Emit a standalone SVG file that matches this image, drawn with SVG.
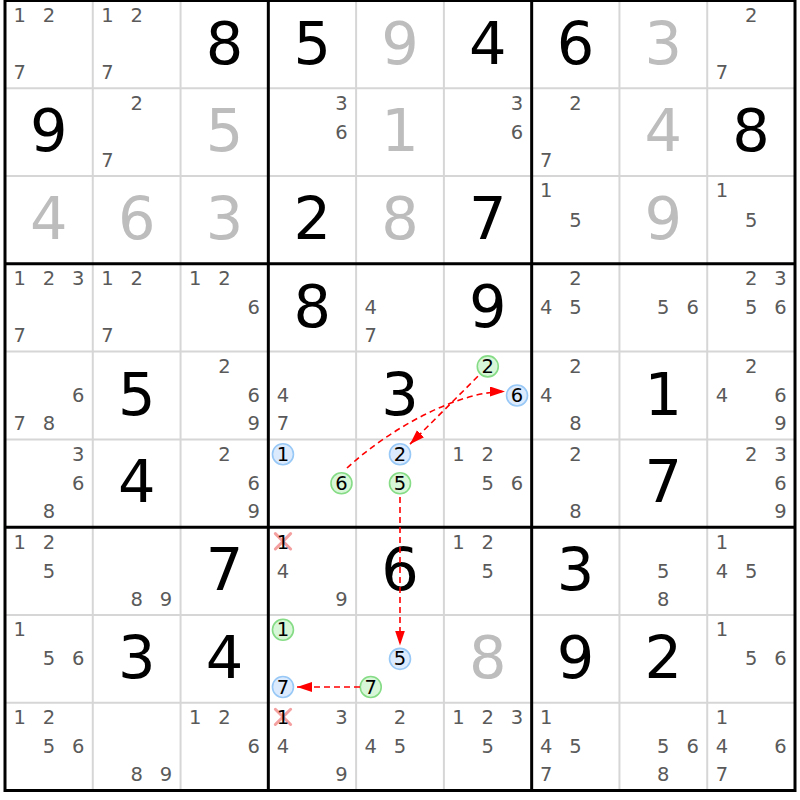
<svg xmlns="http://www.w3.org/2000/svg" width="800" height="800" viewBox="0 0 800 800">
<style>
text{font-family:"DejaVu Sans","Verdana",sans-serif;text-anchor:middle}
.c{font-size:19.5px;fill:#5a5a5a}
.k{font-size:19.5px;fill:#000}
.g{font-size:59px;fill:#000}
.s{font-size:59px;fill:#bdbdbd}
.thin{stroke:#d6d6d6;stroke-width:2}
.thick{stroke:#000;stroke-width:3;fill:none}
.gc{fill:#d8f6d8;stroke:#86dc86;stroke-width:1.6}
.bc{fill:#dbeafd;stroke:#98c8f6;stroke-width:1.6}
.x{stroke:#f5a0a0;stroke-width:3;stroke-linecap:round}
.link{fill:none;stroke:#f00;stroke-width:1.6;stroke-dasharray:6,4}
</style>
<defs>
<marker id="ah" markerUnits="userSpaceOnUse" markerWidth="16" markerHeight="11" refX="15" refY="5" orient="auto"><path d="M0,0 L15,5 L0,10 z" fill="#f00"/></marker>
</defs>
<rect x="0" y="0" width="800" height="800" fill="#fff"/>
<g id="grid">
<g class="thin">
<line x1="92.78" y1="0.5" x2="92.78" y2="790.5"/><line x1="180.56" y1="0.5" x2="180.56" y2="790.5"/>
<line x1="356.11" y1="0.5" x2="356.11" y2="790.5"/><line x1="443.89" y1="0.5" x2="443.89" y2="790.5"/>
<line x1="619.44" y1="0.5" x2="619.44" y2="790.5"/><line x1="707.22" y1="0.5" x2="707.22" y2="790.5"/>
<line x1="5" y1="88.28" x2="795" y2="88.28"/><line x1="5" y1="176.06" x2="795" y2="176.06"/>
<line x1="5" y1="351.61" x2="795" y2="351.61"/><line x1="5" y1="439.39" x2="795" y2="439.39"/>
<line x1="5" y1="614.94" x2="795" y2="614.94"/><line x1="5" y1="702.72" x2="795" y2="702.72"/>
</g>
<g class="thick">
<rect x="5" y="0.5" width="790" height="790"/>
<line x1="268.33" y1="0.5" x2="268.33" y2="790.5"/><line x1="531.67" y1="0.5" x2="531.67" y2="790.5"/>
<line x1="5" y1="263.83" x2="795" y2="263.83"/><line x1="5" y1="527.17" x2="795" y2="527.17"/>
</g>
</g>
<g id="cells">
<!-- row 1 -->
<g id="r1c1" transform="translate(5,0.5)"><text class="c" x="14.63" y="21.4">1</text><text class="c" x="43.89" y="21.4">2</text><text class="c" x="14.63" y="78.6">7</text></g>
<g id="r1c2" transform="translate(92.78,0.5)"><text class="c" x="14.63" y="21.4">1</text><text class="c" x="43.89" y="21.4">2</text><text class="c" x="14.63" y="78.6">7</text></g>
<g id="r1c3" transform="translate(180.56,0.5)"><text class="g" x="43.89" y="63">8</text></g>
<g id="r1c4" transform="translate(268.33,0.5)"><text class="g" x="43.89" y="63">5</text></g>
<g id="r1c5" transform="translate(356.11,0.5)"><text class="s" x="43.89" y="63">9</text></g>
<g id="r1c6" transform="translate(443.89,0.5)"><text class="g" x="43.89" y="63">4</text></g>
<g id="r1c7" transform="translate(531.67,0.5)"><text class="g" x="43.89" y="63">6</text></g>
<g id="r1c8" transform="translate(619.44,0.5)"><text class="s" x="43.89" y="63">3</text></g>
<g id="r1c9" transform="translate(707.22,0.5)"><text class="c" x="43.89" y="21.4">2</text><text class="c" x="14.63" y="78.6">7</text></g>
<!-- row 2 -->
<g id="r2c1" transform="translate(5,88.28)"><text class="g" x="43.89" y="63">9</text></g>
<g id="r2c2" transform="translate(92.78,88.28)"><text class="c" x="43.89" y="21.4">2</text><text class="c" x="14.63" y="78.6">7</text></g>
<g id="r2c3" transform="translate(180.56,88.28)"><text class="s" x="43.89" y="63">5</text></g>
<g id="r2c4" transform="translate(268.33,88.28)"><text class="c" x="73.15" y="21.4">3</text><text class="c" x="73.15" y="50.5">6</text></g>
<g id="r2c5" transform="translate(356.11,88.28)"><text class="s" x="43.89" y="63">1</text></g>
<g id="r2c6" transform="translate(443.89,88.28)"><text class="c" x="73.15" y="21.4">3</text><text class="c" x="73.15" y="50.5">6</text></g>
<g id="r2c7" transform="translate(531.67,88.28)"><text class="c" x="43.89" y="21.4">2</text><text class="c" x="14.63" y="78.6">7</text></g>
<g id="r2c8" transform="translate(619.44,88.28)"><text class="s" x="43.89" y="63">4</text></g>
<g id="r2c9" transform="translate(707.22,88.28)"><text class="g" x="43.89" y="63">8</text></g>
<!-- row 3 -->
<g id="r3c1" transform="translate(5,176.06)"><text class="s" x="43.89" y="63">4</text></g>
<g id="r3c2" transform="translate(92.78,176.06)"><text class="s" x="43.89" y="63">6</text></g>
<g id="r3c3" transform="translate(180.56,176.06)"><text class="s" x="43.89" y="63">3</text></g>
<g id="r3c4" transform="translate(268.33,176.06)"><text class="g" x="43.89" y="63">2</text></g>
<g id="r3c5" transform="translate(356.11,176.06)"><text class="s" x="43.89" y="63">8</text></g>
<g id="r3c6" transform="translate(443.89,176.06)"><text class="g" x="43.89" y="63">7</text></g>
<g id="r3c7" transform="translate(531.67,176.06)"><text class="c" x="14.63" y="21.4">1</text><text class="c" x="43.89" y="50.5">5</text></g>
<g id="r3c8" transform="translate(619.44,176.06)"><text class="s" x="43.89" y="63">9</text></g>
<g id="r3c9" transform="translate(707.22,176.06)"><text class="c" x="14.63" y="21.4">1</text><text class="c" x="43.89" y="50.5">5</text></g>
<!-- row 4 -->
<g id="r4c1" transform="translate(5,263.83)"><text class="c" x="14.63" y="21.4">1</text><text class="c" x="43.89" y="21.4">2</text><text class="c" x="73.15" y="21.4">3</text><text class="c" x="14.63" y="78.6">7</text></g>
<g id="r4c2" transform="translate(92.78,263.83)"><text class="c" x="14.63" y="21.4">1</text><text class="c" x="43.89" y="21.4">2</text><text class="c" x="14.63" y="78.6">7</text></g>
<g id="r4c3" transform="translate(180.56,263.83)"><text class="c" x="14.63" y="21.4">1</text><text class="c" x="43.89" y="21.4">2</text><text class="c" x="73.15" y="50.5">6</text></g>
<g id="r4c4" transform="translate(268.33,263.83)"><text class="g" x="43.89" y="63">8</text></g>
<g id="r4c5" transform="translate(356.11,263.83)"><text class="c" x="14.63" y="50.5">4</text><text class="c" x="14.63" y="78.6">7</text></g>
<g id="r4c6" transform="translate(443.89,263.83)"><text class="g" x="43.89" y="63">9</text></g>
<g id="r4c7" transform="translate(531.67,263.83)"><text class="c" x="43.89" y="21.4">2</text><text class="c" x="14.63" y="50.5">4</text><text class="c" x="43.89" y="50.5">5</text></g>
<g id="r4c8" transform="translate(619.44,263.83)"><text class="c" x="43.89" y="50.5">5</text><text class="c" x="73.15" y="50.5">6</text></g>
<g id="r4c9" transform="translate(707.22,263.83)"><text class="c" x="43.89" y="21.4">2</text><text class="c" x="73.15" y="21.4">3</text><text class="c" x="43.89" y="50.5">5</text><text class="c" x="73.15" y="50.5">6</text></g>
<!-- row 5 -->
<g id="r5c1" transform="translate(5,351.61)"><text class="c" x="73.15" y="50.5">6</text><text class="c" x="14.63" y="78.6">7</text><text class="c" x="43.89" y="78.6">8</text></g>
<g id="r5c2" transform="translate(92.78,351.61)"><text class="g" x="43.89" y="63">5</text></g>
<g id="r5c3" transform="translate(180.56,351.61)"><text class="c" x="43.89" y="21.4">2</text><text class="c" x="73.15" y="50.5">6</text><text class="c" x="73.15" y="78.6">9</text></g>
<g id="r5c4" transform="translate(268.33,351.61)"><text class="c" x="14.63" y="50.5">4</text><text class="c" x="14.63" y="78.6">7</text></g>
<g id="r5c5" transform="translate(356.11,351.61)"><text class="g" x="43.89" y="63">3</text></g>
<g id="r5c6" transform="translate(443.89,351.61)"><circle class="gc" cx="43.89" cy="14.8" r="10.5"/><text class="k" x="43.89" y="21.4">2</text><circle class="bc" cx="73.15" cy="43.9" r="10.5"/><text class="k" x="73.15" y="50.5">6</text></g>
<g id="r5c7" transform="translate(531.67,351.61)"><text class="c" x="43.89" y="21.4">2</text><text class="c" x="14.63" y="50.5">4</text><text class="c" x="43.89" y="78.6">8</text></g>
<g id="r5c8" transform="translate(619.44,351.61)"><text class="g" x="43.89" y="63">1</text></g>
<g id="r5c9" transform="translate(707.22,351.61)"><text class="c" x="43.89" y="21.4">2</text><text class="c" x="14.63" y="50.5">4</text><text class="c" x="73.15" y="50.5">6</text><text class="c" x="73.15" y="78.6">9</text></g>
<!-- row 6 -->
<g id="r6c1" transform="translate(5,439.39)"><text class="c" x="73.15" y="21.4">3</text><text class="c" x="73.15" y="50.5">6</text><text class="c" x="43.89" y="78.6">8</text></g>
<g id="r6c2" transform="translate(92.78,439.39)"><text class="g" x="43.89" y="63">4</text></g>
<g id="r6c3" transform="translate(180.56,439.39)"><text class="c" x="43.89" y="21.4">2</text><text class="c" x="73.15" y="50.5">6</text><text class="c" x="73.15" y="78.6">9</text></g>
<g id="r6c4" transform="translate(268.33,439.39)"><circle class="bc" cx="14.63" cy="14.8" r="10.5"/><text class="k" x="14.63" y="21.4">1</text><circle class="gc" cx="73.15" cy="43.9" r="10.5"/><text class="k" x="73.15" y="50.5">6</text></g>
<g id="r6c5" transform="translate(356.11,439.39)"><circle class="bc" cx="43.89" cy="14.8" r="10.5"/><text class="k" x="43.89" y="21.4">2</text><circle class="gc" cx="43.89" cy="43.9" r="10.5"/><text class="k" x="43.89" y="50.5">5</text></g>
<g id="r6c6" transform="translate(443.89,439.39)"><text class="c" x="14.63" y="21.4">1</text><text class="c" x="43.89" y="21.4">2</text><text class="c" x="43.89" y="50.5">5</text><text class="c" x="73.15" y="50.5">6</text></g>
<g id="r6c7" transform="translate(531.67,439.39)"><text class="c" x="43.89" y="21.4">2</text><text class="c" x="43.89" y="78.6">8</text></g>
<g id="r6c8" transform="translate(619.44,439.39)"><text class="g" x="43.89" y="63">7</text></g>
<g id="r6c9" transform="translate(707.22,439.39)"><text class="c" x="43.89" y="21.4">2</text><text class="c" x="73.15" y="21.4">3</text><text class="c" x="73.15" y="50.5">6</text><text class="c" x="73.15" y="78.6">9</text></g>
<!-- row 7 -->
<g id="r7c1" transform="translate(5,527.17)"><text class="c" x="14.63" y="21.4">1</text><text class="c" x="43.89" y="21.4">2</text><text class="c" x="43.89" y="50.5">5</text></g>
<g id="r7c2" transform="translate(92.78,527.17)"><text class="c" x="43.89" y="78.6">8</text><text class="c" x="73.15" y="78.6">9</text></g>
<g id="r7c3" transform="translate(180.56,527.17)"><text class="g" x="43.89" y="63">7</text></g>
<g id="r7c4" transform="translate(268.33,527.17)"><path class="x" d="M7,6.5 L22.3,21.8 M22.3,6.5 L7,21.8"/><text class="k" x="14.63" y="21.4">1</text><text class="c" x="14.63" y="50.5">4</text><text class="c" x="73.15" y="78.6">9</text></g>
<g id="r7c5" transform="translate(356.11,527.17)"><text class="g" x="43.89" y="63">6</text></g>
<g id="r7c6" transform="translate(443.89,527.17)"><text class="c" x="14.63" y="21.4">1</text><text class="c" x="43.89" y="21.4">2</text><text class="c" x="43.89" y="50.5">5</text></g>
<g id="r7c7" transform="translate(531.67,527.17)"><text class="g" x="43.89" y="63">3</text></g>
<g id="r7c8" transform="translate(619.44,527.17)"><text class="c" x="43.89" y="50.5">5</text><text class="c" x="43.89" y="78.6">8</text></g>
<g id="r7c9" transform="translate(707.22,527.17)"><text class="c" x="14.63" y="21.4">1</text><text class="c" x="14.63" y="50.5">4</text><text class="c" x="43.89" y="50.5">5</text></g>
<!-- row 8 -->
<g id="r8c1" transform="translate(5,614.94)"><text class="c" x="14.63" y="21.4">1</text><text class="c" x="43.89" y="50.5">5</text><text class="c" x="73.15" y="50.5">6</text></g>
<g id="r8c2" transform="translate(92.78,614.94)"><text class="g" x="43.89" y="63">3</text></g>
<g id="r8c3" transform="translate(180.56,614.94)"><text class="g" x="43.89" y="63">4</text></g>
<g id="r8c4" transform="translate(268.33,614.94)"><circle class="gc" cx="14.63" cy="14.8" r="10.5"/><text class="k" x="14.63" y="21.4">1</text><circle class="bc" cx="14.63" cy="72" r="10.5"/><text class="k" x="14.63" y="78.6">7</text></g>
<g id="r8c5" transform="translate(356.11,614.94)"><circle class="bc" cx="43.89" cy="43.9" r="10.5"/><text class="k" x="43.89" y="50.5">5</text><circle class="gc" cx="14.63" cy="72" r="10.5"/><text class="k" x="14.63" y="78.6">7</text></g>
<g id="r8c6" transform="translate(443.89,614.94)"><text class="s" x="43.89" y="63">8</text></g>
<g id="r8c7" transform="translate(531.67,614.94)"><text class="g" x="43.89" y="63">9</text></g>
<g id="r8c8" transform="translate(619.44,614.94)"><text class="g" x="43.89" y="63">2</text></g>
<g id="r8c9" transform="translate(707.22,614.94)"><text class="c" x="14.63" y="21.4">1</text><text class="c" x="43.89" y="50.5">5</text><text class="c" x="73.15" y="50.5">6</text></g>
<!-- row 9 -->
<g id="r9c1" transform="translate(5,702.72)"><text class="c" x="14.63" y="21.4">1</text><text class="c" x="43.89" y="21.4">2</text><text class="c" x="43.89" y="50.5">5</text><text class="c" x="73.15" y="50.5">6</text></g>
<g id="r9c2" transform="translate(92.78,702.72)"><text class="c" x="43.89" y="78.6">8</text><text class="c" x="73.15" y="78.6">9</text></g>
<g id="r9c3" transform="translate(180.56,702.72)"><text class="c" x="14.63" y="21.4">1</text><text class="c" x="43.89" y="21.4">2</text><text class="c" x="73.15" y="50.5">6</text></g>
<g id="r9c4" transform="translate(268.33,702.72)"><path class="x" d="M7,6.5 L22.3,21.8 M22.3,6.5 L7,21.8"/><text class="k" x="14.63" y="21.4">1</text><text class="c" x="73.15" y="21.4">3</text><text class="c" x="14.63" y="50.5">4</text><text class="c" x="73.15" y="78.6">9</text></g>
<g id="r9c5" transform="translate(356.11,702.72)"><text class="c" x="43.89" y="21.4">2</text><text class="c" x="14.63" y="50.5">4</text><text class="c" x="43.89" y="50.5">5</text></g>
<g id="r9c6" transform="translate(443.89,702.72)"><text class="c" x="14.63" y="21.4">1</text><text class="c" x="43.89" y="21.4">2</text><text class="c" x="73.15" y="21.4">3</text><text class="c" x="43.89" y="50.5">5</text></g>
<g id="r9c7" transform="translate(531.67,702.72)"><text class="c" x="14.63" y="21.4">1</text><text class="c" x="14.63" y="50.5">4</text><text class="c" x="43.89" y="50.5">5</text><text class="c" x="14.63" y="78.6">7</text></g>
<g id="r9c8" transform="translate(619.44,702.72)"><text class="c" x="43.89" y="50.5">5</text><text class="c" x="73.15" y="50.5">6</text><text class="c" x="43.89" y="78.6">8</text></g>
<g id="r9c9" transform="translate(707.22,702.72)"><text class="c" x="14.63" y="21.4">1</text><text class="c" x="14.63" y="50.5">4</text><text class="c" x="73.15" y="50.5">6</text><text class="c" x="14.63" y="78.6">7</text></g>
</g>
<g id="connectors" class="link">
<path d="M477.9,376.3 L409.9,444.3" marker-end="url(#ah)"/>
<path d="M347,468 C387,431 455,391.5 505,391.5" marker-end="url(#ah)"/>
<path d="M400,497 L400,645.5" marker-end="url(#ah)"/>
<path d="M360,686.94 L297,686.94" marker-end="url(#ah)"/>
</g>
</svg>
